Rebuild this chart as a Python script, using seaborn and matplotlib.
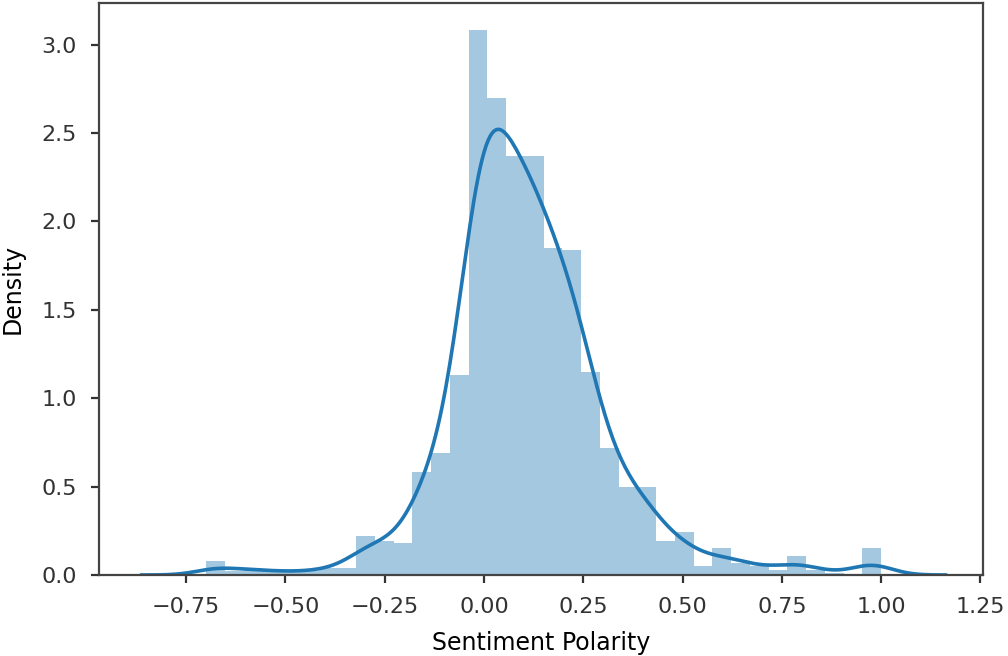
import numpy as np
import pandas as pd
import matplotlib
matplotlib.use("Agg")
import matplotlib.pyplot as plt
import seaborn as sns

# ---- data ----
bin_start = -0.70
bin_stop = 1.00
density = [0.08, 0.02, 0.04, 0.02, 0.02, 0.02, 0.04, 0.04,
           0.22, 0.19, 0.18, 0.585, 0.69, 1.13,
           3.08, 2.70, 2.37, 2.37, 1.85, 1.84, 1.15, 0.72,
           0.50, 0.50, 0.19, 0.245, 0.05, 0.15, 0.07, 0.05,
           0.03, 0.107, 0.03, 0.01, 0.0, 0.15]
x_label = "Sentiment Polarity"
y_label = "Density"

edges = np.linspace(bin_start, bin_stop, len(density) + 1)
centers = (edges[:-1] + edges[1:]) / 2
df = pd.DataFrame({x_label: centers, y_label: density})

color = "#1f77b4"
fs = 16

fig = plt.figure(figsize=(10.08, 6.56), dpi=100)
ax = fig.add_axes([0.098, 0.1235, 0.877, 0.872])

sns.histplot(data=df, x=x_label, weights=y_label, bins=[float(e) for e in edges],
             stat="count", color=color, alpha=0.4, edgecolor="none",
             linewidth=0, ax=ax)

w = np.asarray(density)
mean = np.sum(centers * w) / w.sum()
std = np.sqrt(np.sum(w * (centers - mean) ** 2) / w.sum())
bw = 0.05
tail = 0.162
sns.kdeplot(data=df, x=x_label, weights=y_label, bw_method=bw / std,
            cut=20, clip=(bin_start - tail, bin_stop + tail), gridsize=400,
            color=color, linewidth=2.6, ax=ax)

ax.set_xlim(-0.97, 1.256)
ax.set_ylim(0, 3.235)
ax.set_xlabel(x_label, fontsize=fs + 1, labelpad=10)
ax.set_ylabel(y_label, fontsize=fs + 1, labelpad=12)
ax.tick_params(labelsize=fs, length=6, width=1.6, pad=10, colors="#333333")
for s in ax.spines.values():
    s.set_linewidth(1.6)
    s.set_color("#444444")
ax.set_xticks(np.arange(-0.75, 1.26, 0.25))
ax.set_yticks(np.arange(0, 3.01, 0.5))

fig.savefig("out.png", dpi=100)
